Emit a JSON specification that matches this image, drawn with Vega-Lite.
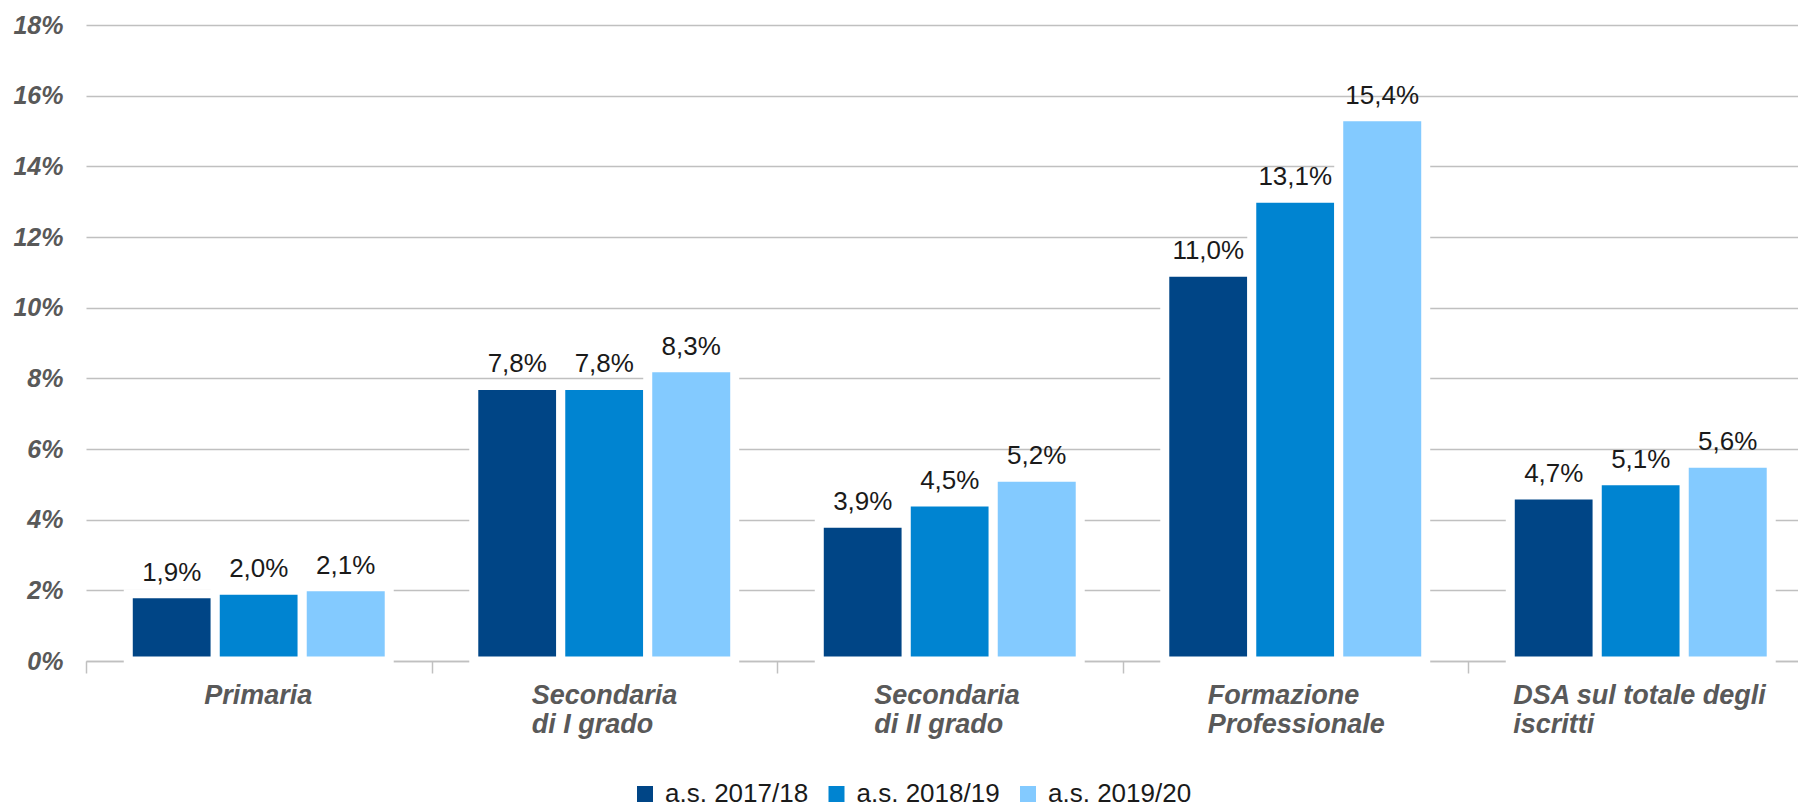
{
  "$schema": "https://vega.github.io/schema/vega-lite/v6.json",
  "width": 1712,
  "height": 636,
  "autosize": {"type": "none"},
  "padding": {"left": 86, "top": 25, "right": 0, "bottom": 147},
  "background": "white",
  "config": {
    "font": "Liberation Sans",
    "view": {"stroke": null},
    "locale": {"number": {"decimal": ",", "thousands": ".", "grouping": [3], "currency": ["€", ""]}}
  },
  "data": {
    "values": [
      {"categoria": "Primaria", "anno": "a.s. 2017/18", "valore": 0.019},
      {"categoria": "Primaria", "anno": "a.s. 2018/19", "valore": 0.020},
      {"categoria": "Primaria", "anno": "a.s. 2019/20", "valore": 0.021},
      {"categoria": "Secondaria di I grado", "anno": "a.s. 2017/18", "valore": 0.078},
      {"categoria": "Secondaria di I grado", "anno": "a.s. 2018/19", "valore": 0.078},
      {"categoria": "Secondaria di I grado", "anno": "a.s. 2019/20", "valore": 0.083},
      {"categoria": "Secondaria di II grado", "anno": "a.s. 2017/18", "valore": 0.039},
      {"categoria": "Secondaria di II grado", "anno": "a.s. 2018/19", "valore": 0.045},
      {"categoria": "Secondaria di II grado", "anno": "a.s. 2019/20", "valore": 0.052},
      {"categoria": "Formazione Professionale", "anno": "a.s. 2017/18", "valore": 0.110},
      {"categoria": "Formazione Professionale", "anno": "a.s. 2018/19", "valore": 0.131},
      {"categoria": "Formazione Professionale", "anno": "a.s. 2019/20", "valore": 0.154},
      {"categoria": "DSA sul totale degli iscritti", "anno": "a.s. 2017/18", "valore": 0.047},
      {"categoria": "DSA sul totale degli iscritti", "anno": "a.s. 2018/19", "valore": 0.051},
      {"categoria": "DSA sul totale degli iscritti", "anno": "a.s. 2019/20", "valore": 0.056}
    ]
  },
  "encoding": {
    "x": {
      "field": "categoria",
      "type": "nominal",
      "sort": ["Primaria", "Secondaria di I grado", "Secondaria di II grado", "Formazione Professionale", "DSA sul totale degli iscritti"],
      "scale": {"paddingInner": 0, "paddingOuter": 0, "range": [0, 1727.5]},
      "axis": {
        "title": null,
        "labelAngle": 0,
        "grid": false,
        "tickBand": "extent",
        "domainColor": "#c0c0c0",
        "domainWidth": 1.5,
        "tickColor": "#c0c0c0",
        "tickWidth": 1.5,
        "tickSize": 12,
        "labelFont": "Liberation Sans",
        "labelFontSize": 27,
        "labelFontWeight": "bold",
        "labelFontStyle": "italic",
        "labelColor": "#595959",
        "labelBaseline": "top",
        "labelPadding": 9,
        "labelLineHeight": 29,
        "labelAlign": "left",
        "labelLimit": 0,
        "labelOffset": {
          "condition": [
            {"test": "datum.value == 'Primaria'", "value": -55},
            {"test": "datum.value == 'Secondaria di I grado'", "value": -73},
            {"test": "datum.value == 'Secondaria di II grado'", "value": -76},
            {"test": "datum.value == 'Formazione Professionale'", "value": -88}
          ],
          "value": -128
        },
        "labelExpr": "datum.value == 'Secondaria di I grado' ? ['Secondaria', 'di I grado'] : datum.value == 'Secondaria di II grado' ? ['Secondaria', 'di II grado'] : datum.value == 'Formazione Professionale' ? ['Formazione', 'Professionale'] : datum.value == 'DSA sul totale degli iscritti' ? ['DSA sul totale degli', 'iscritti'] : datum.value"
      }
    },
    "xOffset": {
      "field": "anno",
      "type": "nominal",
      "scale": {"paddingInner": 0, "paddingOuter": 0.486}
    },
    "y": {
      "field": "valore",
      "type": "quantitative",
      "scale": {"domain": [0, 0.18], "nice": false},
      "axis": {
        "title": null,
        "values": [0, 0.02, 0.04, 0.06, 0.08, 0.10, 0.12, 0.14, 0.16, 0.18],
        "format": ".0%",
        "domain": false,
        "ticks": false,
        "grid": true,
        "gridColor": "#c0c0c0",
        "gridWidth": 1.5,
        "labelFont": "Liberation Sans",
        "labelFontSize": 25,
        "labelFontWeight": "bold",
        "labelFontStyle": "italic",
        "labelColor": "#595959",
        "labelPadding": 23
      }
    }
  },
  "layer": [
    {
      "mark": {"type": "bar", "stroke": "white", "strokeWidth": 9},
      "encoding": {
        "color": {
          "field": "anno",
          "type": "nominal",
          "scale": {"range": ["#004586", "#0084d1", "#83caff"]},
          "legend": {
            "orient": "none",
            "legendX": 546,
            "legendY": 756,
            "direction": "horizontal",
            "title": null,
            "padding": 0,
            "symbolType": "square",
            "symbolSize": 256,
            "symbolStrokeWidth": 0,
            "symbolOpacity": 1,
            "labelFont": "Liberation Sans",
            "labelFontSize": 26,
            "labelLimit": 0,
            "labelColor": "#1a1a1a",
            "labelOffset": 7,
            "columnPadding": 14.5
          }
        }
      }
    },
    {
      "mark": {"type": "text", "baseline": "alphabetic", "dy": -13, "font": "Liberation Sans", "fontSize": 26, "color": "#1a1a1a"},
      "encoding": {
        "text": {"field": "valore", "type": "quantitative", "format": ".1%"}
      }
    }
  ]
}
